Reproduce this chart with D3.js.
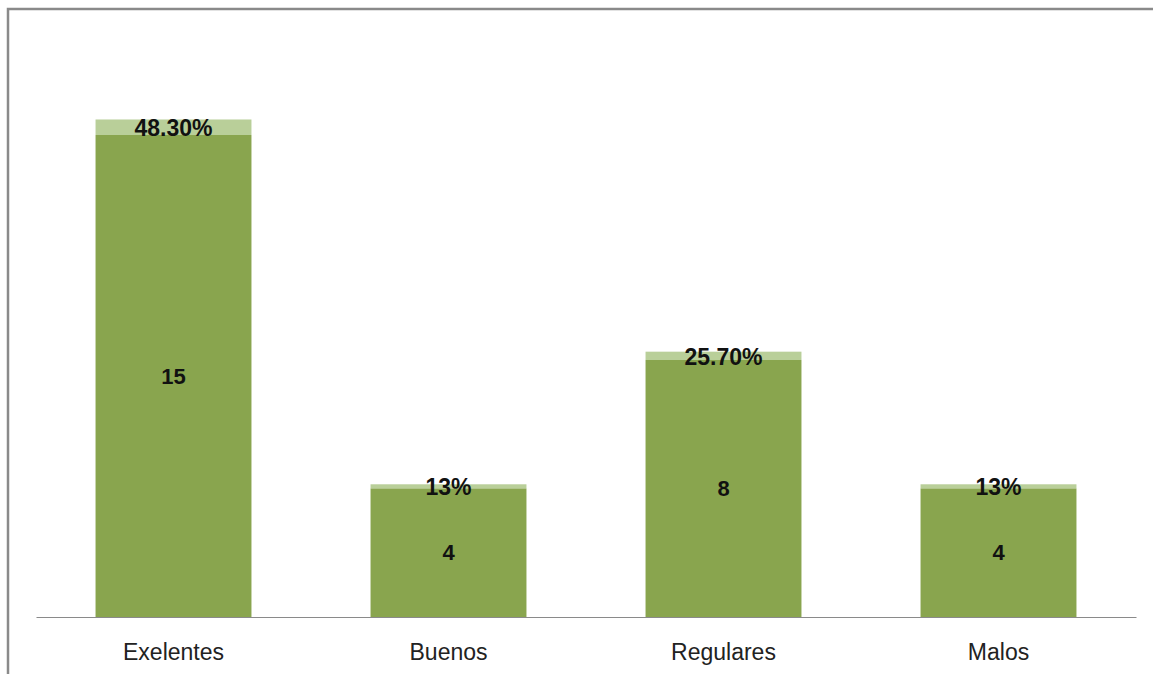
<!DOCTYPE html>
<html>
<head>
<meta charset="utf-8">
<script src="https://cdn.jsdelivr.net/npm/d3@7"></script>
<style>
  html, body { margin: 0; padding: 0; background: #fff; }
  svg { display: block; }
</style>
</head>
<body>
<svg id="chart" width="1153" height="674"></svg>
<script>
const categories = ["Exelentes", "Buenos", "Regulares", "Malos"];
const counts = [15, 4, 8, 4];
const shares = [0.483, 0.13, 0.257, 0.13];
const shareLabels = ["48.30%", "13%", "25.70%", "13%"];

const svg = d3.select("#chart");
const W = 1153, H = 674;
const baseY = 617;
const topY = 135;

// frame
svg.append("path")
  .attr("d", `M8,${H} L8,9 L${W},9`)
  .attr("fill", "none")
  .attr("stroke", "#8a8a8a")
  .attr("stroke-width", 2.5);

const x = d3.scaleBand()
  .domain(categories)
  .range([36, 1136])
  .paddingInner(0.433)
  .paddingOuter(0.2165);

const y = d3.scaleLinear()
  .domain([0, 15])
  .range([baseY, topY]);

const data = categories.map((c, i) => ({ c, n: counts[i], p: shares[i], pl: shareLabels[i] }));

const font = "'Liberation Sans', Arial, sans-serif";

// percentage segments (stacked on top)
svg.selectAll("rect.pct").data(data).join("rect")
  .attr("class", "pct")
  .attr("x", d => x(d.c))
  .attr("width", x.bandwidth())
  .attr("y", d => y(d.n + d.p))
  .attr("height", d => y(d.n) - y(d.n + d.p))
  .attr("fill", "#b9cf99");

// count segments
svg.selectAll("rect.cnt").data(data).join("rect")
  .attr("class", "cnt")
  .attr("x", d => x(d.c))
  .attr("width", x.bandwidth())
  .attr("y", d => y(d.n))
  .attr("height", d => y(0) - y(d.n))
  .attr("fill", "#89a54e");

// axis
const xAxis = d3.axisBottom(x).tickSize(0).tickPadding(27);
const gx = svg.append("g").attr("transform", `translate(0,${baseY})`).call(xAxis);
gx.select(".domain").attr("stroke", "#8a8a8a").attr("stroke-width", 1.2);
gx.selectAll("text")
  .attr("font-family", font)
  .attr("font-size", 23)
  .attr("fill", "#222");

// count labels
svg.selectAll("text.cnt").data(data).join("text")
  .attr("class", "cnt")
  .attr("x", d => x(d.c) + x.bandwidth() / 2)
  .attr("y", d => (y(d.n) + y(0)) / 2)
  .attr("dy", "0.35em")
  .attr("text-anchor", "middle")
  .attr("font-family", font)
  .attr("font-weight", "bold")
  .attr("font-size", 22)
  .attr("fill", "#111")
  .text(d => d.n);

// percentage labels
svg.selectAll("text.pct").data(data).join("text")
  .attr("class", "pct")
  .attr("x", d => x(d.c) + x.bandwidth() / 2)
  .attr("y", d => Math.max((y(d.n + d.p) + y(d.n)) / 2, y(d.n + d.p) + 1.5))
  .attr("dy", "0.38em")
  .attr("text-anchor", "middle")
  .attr("font-family", font)
  .attr("font-weight", "bold")
  .attr("font-size", 23)
  .attr("fill", "#111")
  .text(d => d.pl);
</script>
</body>
</html>
